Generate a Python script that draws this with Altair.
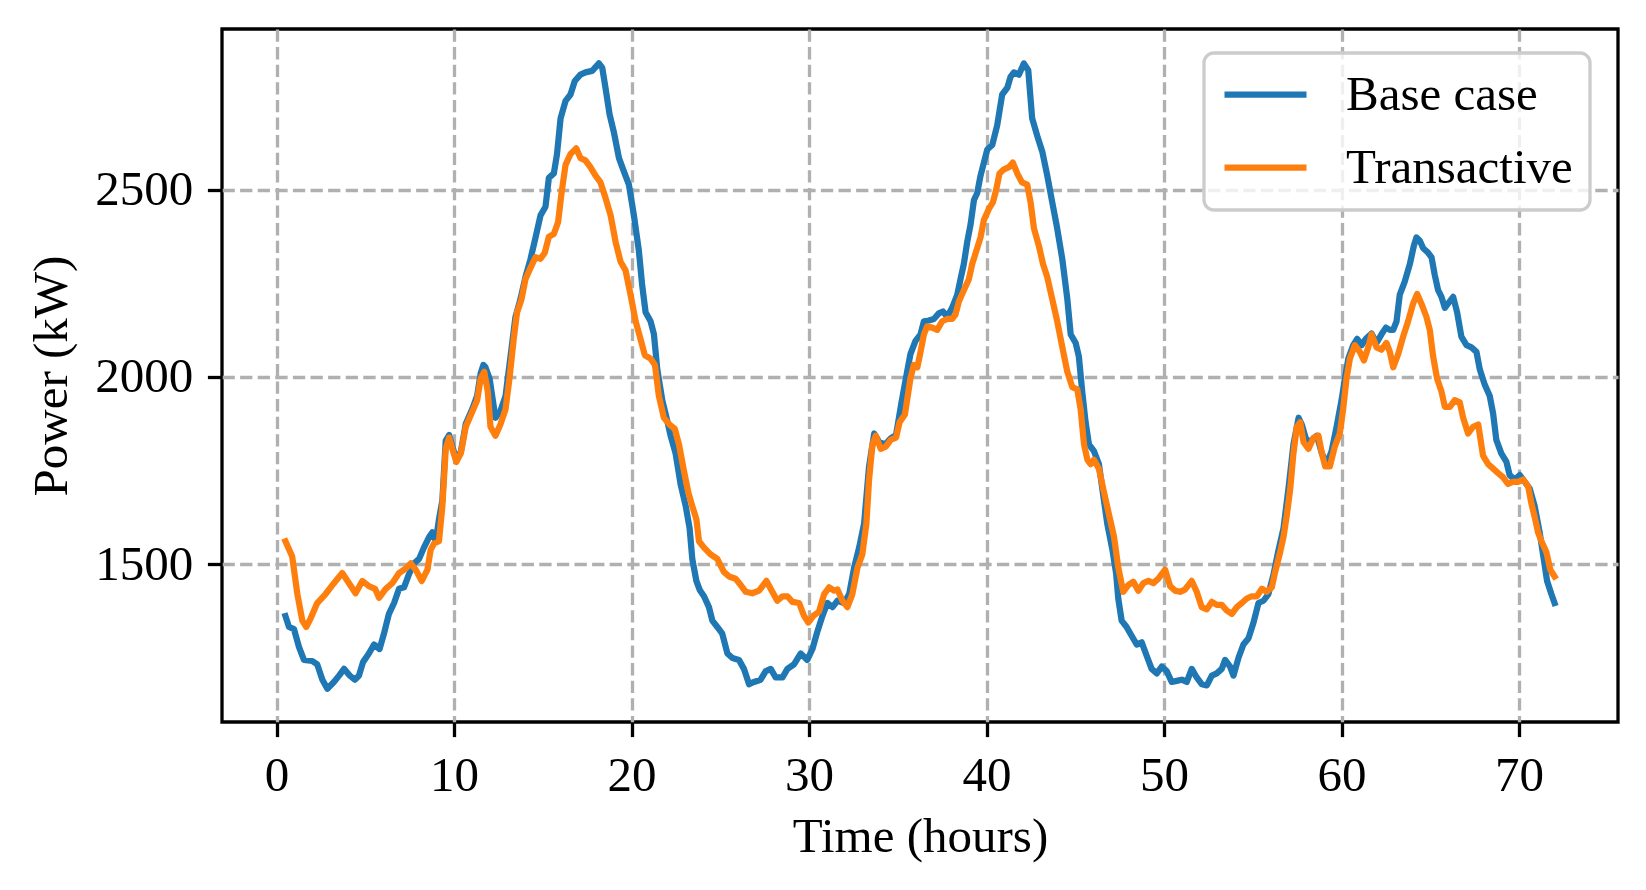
import altair as alt
import pandas as pd

# ---- data (time in hours, power in kW) ----
base_t = [0.5, 0.7, 0.98, 1.26, 1.54, 2.01, 2.29, 2.58, 2.86, 3.23, 3.52, 3.8, 4.12, 4.42, 4.64, 4.87,
          5.2, 5.49, 5.8, 6.05, 6.33, 6.62, 6.9, 7.18, 7.46, 7.74, 8.03, 8.3, 8.6, 8.78, 8.97, 9.15,
          9.34, 9.53, 9.72, 9.9, 10.13, 10.38, 10.66, 11.03, 11.3, 11.5, 11.65, 11.77,
          12.0, 12.33, 12.6, 12.9, 13.18, 13.46, 13.74, 14.02, 14.3, 14.59, 14.87, 15.15, 15.34, 15.62,
          15.8, 16.0, 16.28, 16.56, 16.8, 17.12, 17.4, 17.78, 18.16, 18.35, 18.53, 18.76, 19.0, 19.29,
          19.57, 19.85, 20.13, 20.41, 20.6, 20.79, 21.07, 21.26, 21.45, 21.73, 22.0, 22.2, 22.48, 22.76,
          23.05, 23.27, 23.42, 23.65, 23.85, 24.08, 24.36, 24.55, 24.83, 25.11, 25.4, 25.68, 26.05, 26.33,
          26.62, 26.9, 27.27, 27.56, 27.84, 28.12, 28.5, 28.78, 29.15, 29.53, 29.9, 30.19, 30.47, 30.75,
          31.03, 31.32, 31.6, 31.97, 32.26, 32.54, 32.82, 33.1, 33.38, 33.67, 33.95, 34.3, 34.6, 34.9,
          35.2, 35.43, 35.71, 35.99, 36.28, 36.47, 36.75, 37.03, 37.31, 37.54, 37.78, 38.06, 38.35, 38.53,
          38.72, 38.91, 39.1, 39.29, 39.47, 39.66, 39.85, 40.04, 40.32, 40.6, 40.88, 41.17, 41.35, 41.54,
          41.82, 42.1, 42.35, 42.57, 42.86, 43.14, 43.42, 43.7, 43.98, 44.27, 44.55, 44.74, 45.02, 45.2,
          45.39, 45.58, 45.77, 46.05, 46.33, 46.52, 46.8, 47.09, 47.3, 47.42, 47.61, 47.89, 48.18, 48.46,
          48.74, 49.02, 49.3, 49.59, 49.87, 50.15, 50.43, 50.71, 51.0, 51.28, 51.56, 51.84, 52.12, 52.41,
          52.69, 52.97, 53.25, 53.44, 53.72, 53.91, 54.19, 54.47, 54.76, 55.04, 55.32, 55.6, 55.88, 56.17,
          56.45, 56.73, 57.01, 57.29, 57.58, 57.76, 58.05, 58.33, 58.61, 58.89, 59.17, 59.44, 59.72, 60.0,
          60.19, 60.38, 60.66, 60.88, 61.13, 61.37, 61.69, 61.97, 62.25, 62.5, 62.72, 62.91, 63.1, 63.28,
          63.56, 63.85, 64.07, 64.22, 64.41, 64.6, 64.88, 65.07, 65.25, 65.44, 65.63, 65.82, 66.0, 66.29,
          66.51, 66.75, 67.04, 67.32, 67.6, 67.79, 68.07, 68.35, 68.54, 68.72, 69.0, 69.29, 69.47, 69.76,
          70.04, 70.32, 70.6, 70.88, 71.16, 71.39, 71.58, 71.82, 72.0]
base_kw = [1361, 1332, 1326, 1279, 1244, 1241, 1232, 1191, 1167, 1185, 1202, 1220, 1202, 1191, 1202, 1238,
           1261, 1285, 1273, 1314, 1367, 1396, 1434, 1438, 1473, 1502, 1514, 1544, 1573, 1585, 1561, 1620,
           1670, 1830, 1845, 1815, 1778, 1800, 1875, 1915, 1950, 2010, 2032, 2026,
           1996, 1891, 1908, 1949, 2055, 2161, 2208, 2267, 2314, 2373, 2432, 2455, 2532, 2544,
           2596, 2691, 2738, 2755, 2791, 2808, 2814, 2818, 2838, 2826, 2773, 2702, 2655, 2585,
           2549, 2514, 2432, 2338, 2244, 2173, 2149, 2114, 2020, 1938, 1885, 1843, 1796, 1714,
           1655, 1596, 1514, 1455, 1430, 1414, 1385, 1349, 1332, 1314, 1261, 1249, 1244, 1220,
           1179, 1185, 1191, 1214, 1220, 1197, 1197, 1220, 1232, 1261, 1244, 1273, 1320, 1361,
           1396, 1385, 1402, 1396, 1420, 1491, 1544, 1608, 1761, 1849, 1826, 1820, 1836, 1845,
           1930, 1990, 2061, 2096, 2114, 2149, 2151, 2155, 2170, 2175, 2161, 2185, 2220, 2261,
           2302, 2361, 2408, 2473, 2491, 2538, 2573, 2608, 2620, 2673, 2755, 2773, 2802, 2814,
           2808, 2838, 2820, 2691, 2644, 2602, 2538, 2467, 2397, 2314, 2208, 2114, 2091, 2055,
           1961, 1879, 1820, 1802, 1767, 1702, 1608, 1538, 1475, 1408, 1349, 1332, 1308, 1285,
           1291, 1255, 1220, 1208, 1226, 1214, 1185, 1188, 1191, 1185, 1220, 1197, 1179, 1176,
           1202, 1208, 1220, 1244, 1226, 1202, 1249, 1285, 1302, 1344, 1396, 1402, 1420, 1473,
           1538, 1596, 1702, 1820, 1891, 1873, 1826, 1832, 1843, 1796, 1767, 1802, 1867, 1938,
           1996, 2049, 2085, 2102, 2085, 2102, 2116, 2091, 2114, 2132, 2126, 2126, 2149, 2220,
           2255, 2302, 2350, 2373, 2364, 2344, 2332, 2320, 2273, 2232, 2214, 2185, 2196, 2214,
           2173, 2108, 2085, 2079, 2067, 2020, 1979, 1949, 1902, 1832, 1796, 1773, 1738, 1726,
           1738, 1720, 1702, 1655, 1585, 1514, 1455, 1420, 1396]

trans_t = [0.5, 0.88, 1.17, 1.45, 1.67, 1.92, 2.29, 2.76, 3.23, 3.7, 4.08, 4.45, 4.83, 5.2, 5.55, 5.77,
           6.15, 6.52, 6.9, 7.27, 7.56, 7.84, 8.18, 8.5, 8.68, 8.87, 9.15, 9.34, 9.53, 9.72, 9.9, 10.13,
           10.38, 10.66, 11.03, 11.3, 11.5, 11.7, 11.9, 12.05, 12.33, 12.61, 12.9, 13.12, 13.36, 13.55,
           13.8, 14.02, 14.3, 14.59, 14.87, 15.11, 15.34, 15.62, 15.86, 16.05, 16.28, 16.56, 16.88, 17.12,
           17.4, 17.68, 17.97, 18.25, 18.53, 18.82, 19.1, 19.38, 19.66, 19.94, 20.23, 20.5, 20.75, 21.07,
           21.32, 21.54, 21.82, 22.14, 22.44, 22.67, 22.95, 23.2, 23.42, 23.65, 23.8, 24.08, 24.45, 24.83,
           25.2, 25.49, 25.86, 26.15, 26.43, 26.8, 27.18, 27.6, 27.93, 28.21, 28.5, 28.78, 29.06, 29.44,
           29.72, 29.96, 30.23, 30.56, 30.85, 31.13, 31.41, 31.6, 31.88, 32.16, 32.44, 32.73, 33.0, 33.23,
           33.38, 33.57, 33.76, 34.04, 34.32, 34.6, 34.9, 35.1, 35.4, 35.71, 35.9, 36.1, 36.28, 36.47,
           36.65, 36.94, 37.22, 37.5, 37.78, 38.06, 38.25, 38.44, 38.72, 39.0, 39.19, 39.47, 39.66, 39.85,
           40.13, 40.36, 40.55, 40.73, 40.98, 41.26, 41.48, 41.73, 42.0, 42.29, 42.48, 42.67, 42.95, 43.18,
           43.42, 43.7, 43.98, 44.27, 44.55, 44.83, 45.11, 45.3, 45.49, 45.68, 45.86, 46.05, 46.33, 46.62,
           46.9, 47.18, 47.42, 47.7, 47.98, 48.27, 48.55, 48.83, 49.12, 49.4, 49.68, 50.06, 50.34, 50.62,
           50.9, 51.18, 51.56, 51.84, 52.12, 52.41, 52.69, 52.97, 53.25, 53.53, 53.82, 54.1, 54.38, 54.66,
           54.94, 55.23, 55.51, 55.79, 56.07, 56.26, 56.54, 56.73, 56.92, 57.11, 57.29, 57.48, 57.67, 57.86,
           58.14, 58.42, 58.7, 58.89, 59.08, 59.34, 59.62, 59.9, 60.09, 60.28, 60.47, 60.75, 61.03, 61.26,
           61.5, 61.69, 61.97, 62.25, 62.53, 62.72, 62.91, 63.19, 63.47, 63.75, 64.03, 64.26, 64.5, 64.78,
           64.97, 65.16, 65.38, 65.63, 65.82, 66.1, 66.38, 66.66, 66.85, 67.13, 67.41, 67.7, 67.97, 68.26,
           68.54, 68.82, 69.1, 69.38, 69.66, 69.94, 70.23, 70.51, 70.7, 70.88, 71.07, 71.26, 71.54, 71.76,
           72.0]
trans_kw = [1561, 1520, 1420, 1349, 1332, 1355, 1396, 1420, 1449, 1476, 1449, 1422, 1455, 1441, 1434, 1410,
            1434, 1449, 1476, 1488, 1502, 1485, 1455, 1485, 1538, 1555, 1561, 1655, 1808, 1838, 1808, 1773,
            1796, 1867, 1908, 1938, 1996, 2014, 1961, 1867, 1843, 1873, 1914, 1996, 2102, 2173,
            2208, 2261, 2291, 2320, 2316, 2332, 2375, 2382, 2414, 2490, 2567, 2596, 2611, 2585,
            2579, 2561, 2538, 2520, 2479, 2432, 2361, 2308, 2285, 2220, 2149, 2102, 2058, 2049,
            2032, 1949, 1891, 1873, 1861, 1820, 1749, 1691, 1655, 1620, 1561, 1544, 1526, 1514,
            1479, 1467, 1461, 1444, 1426, 1422, 1429, 1455, 1426, 1402, 1414, 1414, 1399, 1396,
            1361, 1344, 1361, 1373, 1420, 1438, 1429, 1432, 1402, 1385, 1420, 1491, 1526, 1608,
            1726, 1820, 1843, 1808, 1814, 1832, 1838, 1879, 1900, 1996, 2032, 2026, 2067, 2114,
            2135, 2132, 2126, 2149, 2155, 2155, 2167, 2202, 2232, 2261, 2302, 2344, 2373, 2420,
            2449, 2467, 2502, 2544, 2555, 2561, 2573, 2544, 2520, 2514, 2467, 2397, 2350, 2302,
            2267, 2208, 2149, 2079, 2014, 1973, 1967, 1914, 1820, 1779, 1767, 1779, 1755, 1691,
            1632, 1573, 1491, 1426, 1444, 1453, 1429, 1449, 1455, 1449, 1461, 1485, 1441, 1429,
            1426, 1432, 1455, 1426, 1385, 1379, 1399, 1391, 1391, 1376, 1367, 1385, 1396, 1408,
            1414, 1414, 1434, 1426, 1438, 1479, 1532, 1573, 1632, 1702, 1796, 1867, 1879, 1826,
            1808, 1838, 1843, 1796, 1761, 1761, 1814, 1849, 1914, 1996, 2049, 2085, 2067, 2044,
            2079, 2114, 2079, 2073, 2091, 2067, 2026, 2061, 2108, 2149, 2196, 2222, 2196, 2161,
            2126, 2055, 1996, 1961, 1920, 1920, 1938, 1932, 1891, 1849, 1867, 1873, 1790, 1767,
            1755, 1743, 1732, 1714, 1720, 1720, 1726, 1708, 1661, 1626, 1585, 1561, 1532, 1485,
            1467]

series_names = ["Base case", "Transactive"]
series_colors = ["#1f77b4", "#ff7f0e"]
x_ticks = [0, 10, 20, 30, 40, 50, 60, 70]
y_ticks = [1500, 2000, 2500]

df = pd.concat([
    pd.DataFrame({"t": base_t, "kw": base_kw, "series": series_names[0], "order": range(len(base_t))}),
    pd.DataFrame({"t": trans_t, "kw": trans_kw, "series": series_names[1], "order": range(len(trans_t))}),
])

FONT = "Liberation Serif"
FS = 49

chart = alt.Chart(df).mark_line(strokeWidth=6.25, strokeJoin="round", strokeCap="square", clip=True).encode(
    x=alt.X("t:Q", scale=alt.Scale(domain=[-3.075, 75.575], nice=False, zero=False),
            axis=alt.Axis(values=x_ticks, title="Time (hours)", format="d")),
    y=alt.Y("kw:Q", scale=alt.Scale(domain=[1078, 2930], nice=False, zero=False),
            axis=alt.Axis(values=y_ticks, title="Power (kW)", format="d")),
    color=alt.Color("series:N", scale=alt.Scale(domain=series_names, range=series_colors),
                    legend=alt.Legend(orient="none", legendX=982, legendY=24, title=None,
                                      symbolType="stroke", symbolSize=6724, symbolStrokeWidth=6.25,
                                      clipHeight=49,
                                      labelFont=FONT, labelFontSize=FS, labelColor="black",
                                      labelOffset=36, rowPadding=23, padding=17, labelLimit=600,
                                      cornerRadius=10, fillColor="rgba(255,255,255,0.8)",
                                      strokeColor="#cccccc")),
    order="order:Q",
).properties(
    width=1396, height=693,
    autosize=alt.AutoSizeParams(type="none"),
    padding={"left": 214, "top": 21, "right": 20, "bottom": 150},
).configure_view(
    stroke="black", strokeWidth=3.3
).configure_axis(
    labelFont=FONT, labelFontSize=FS, labelColor="black",
    titleFont=FONT, titleFontSize=FS, titleFontWeight="normal", titleColor="black",
    tickSize=14.6, tickWidth=3.3, tickColor="black", labelPadding=14.6,
    domain=False,
    grid=True, gridColor="#b0b0b0", gridDash=[12.3, 5.3], gridWidth=3.3, gridOpacity=1,
).configure_axisX(
    titlePadding=12,
).configure_axisY(
    titlePadding=18,
).configure_legend(
    strokeWidth=3.3,
)

chart.save("out.html", embed_options={"renderer": "svg", "actions": False})
